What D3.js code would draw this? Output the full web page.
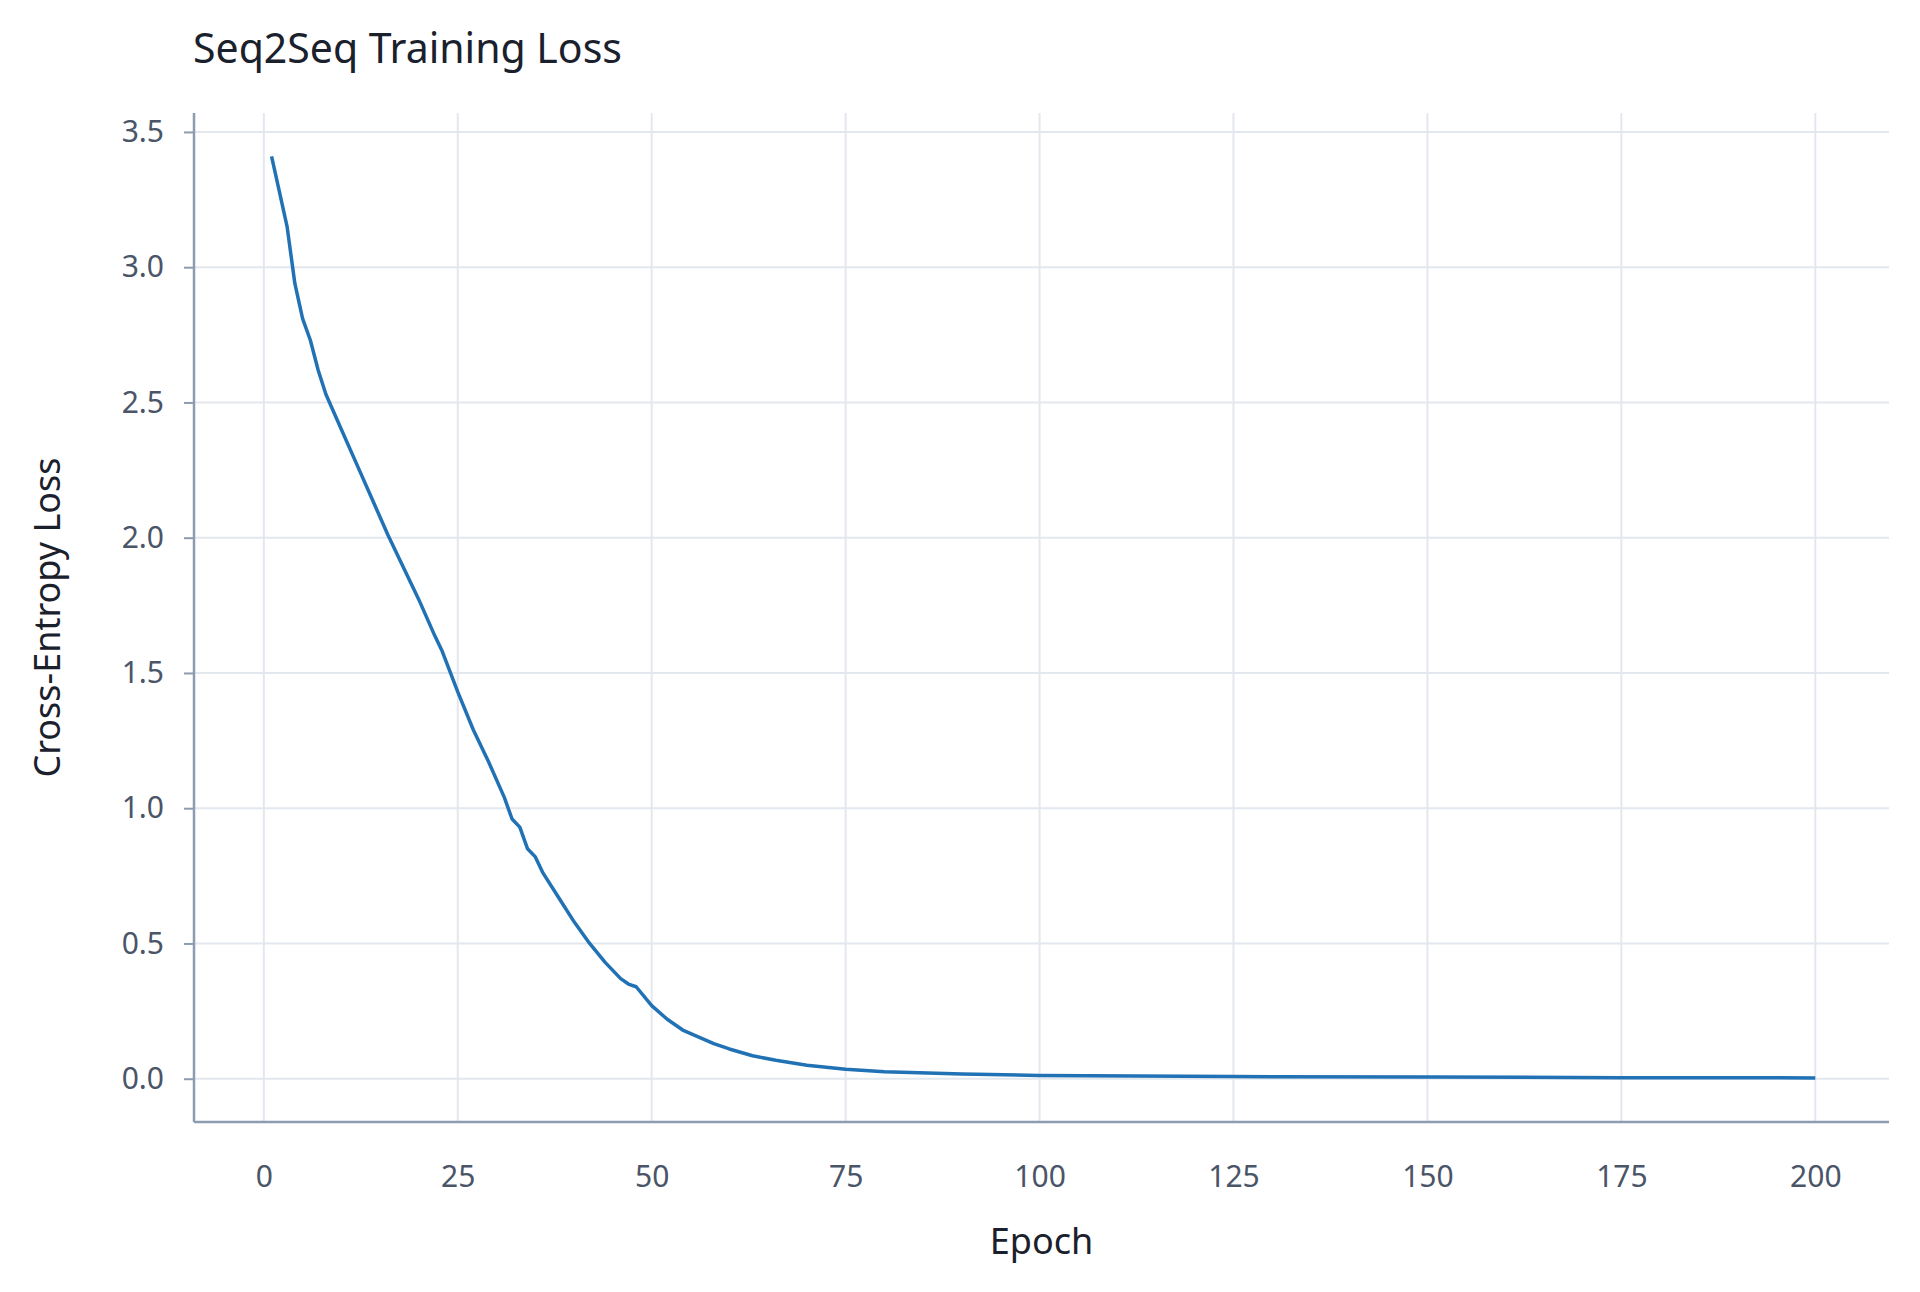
<!DOCTYPE html>
<html>
<head>
<meta charset="utf-8">
<script src="https://cdn.jsdelivr.net/npm/d3@7"></script>
<style>
  body { margin: 0; background: #fff; }
  text { font-family: "Noto Sans", "Open Sans", sans-serif; }
</style>
</head>
<body>
<svg id="chart" width="1920" height="1292"></svg>
<script>
// data
const epochs = [1, 2, 3, 4, 5, 6, 7, 8, 10, 12, 14, 16, 18, 20, 22, 23, 25, 27, 29, 31, 32, 33, 34, 35, 36, 38, 40, 42, 44, 46, 47, 48, 50, 52, 54, 56, 58, 60, 63, 66, 70, 75, 80, 90, 100, 125, 150, 175, 200];
const losses = [3.41, 3.28, 3.15, 2.94, 2.81, 2.73, 2.62, 2.53, 2.40, 2.27, 2.14, 2.01, 1.89, 1.77, 1.64, 1.58, 1.43, 1.29, 1.17, 1.04, 0.96, 0.93, 0.85, 0.82, 0.76, 0.67, 0.58, 0.50, 0.43, 0.37, 0.35, 0.34, 0.27, 0.22, 0.18, 0.155, 0.13, 0.11, 0.085, 0.068, 0.05, 0.035, 0.026, 0.017, 0.012, 0.008, 0.006, 0.004, 0.003];
const xTicks = [0, 25, 50, 75, 100, 125, 150, 175, 200];
const yTicks = [0, 0.5, 1.0, 1.5, 2.0, 2.5, 3.0, 3.5];

const margin = { left: 194, right: 31, top: 113, bottom: 170 };
const width = 1920, height = 1292;
const svg = d3.select("#chart");

const x = d3.scaleLinear().domain([-9, 209.5]).range([margin.left, width - margin.right]);
const y = d3.scaleLinear().domain([-0.16, 3.57]).range([height - margin.bottom, margin.top]);

// grid
svg.append("g").selectAll("line").data(xTicks).join("line")
  .attr("x1", d => x(d)).attr("x2", d => x(d))
  .attr("y1", margin.top).attr("y2", height - margin.bottom)
  .attr("stroke", "#e3e8ee").attr("stroke-width", 2);
svg.append("g").selectAll("line").data(yTicks).join("line")
  .attr("x1", margin.left).attr("x2", width - margin.right)
  .attr("y1", d => y(d)).attr("y2", d => y(d))
  .attr("stroke", "#e3e8ee").attr("stroke-width", 2);

// axes
const xAxis = svg.append("g")
  .attr("transform", `translate(0,${height - margin.bottom})`)
  .call(d3.axisBottom(x).tickValues(xTicks).tickSize(0).tickPadding(44).tickFormat(d3.format("d")));
const yAxis = svg.append("g")
  .attr("transform", `translate(${margin.left},0)`)
  .call(d3.axisLeft(y).tickValues(yTicks).tickSize(10).tickPadding(20).tickFormat(d3.format(".1f")));
[xAxis, yAxis].forEach(a => {
  a.select(".domain").attr("stroke", "#8d9cb0").attr("stroke-width", 2.5);
  a.selectAll(".tick line").attr("stroke", "#8d9cb0").attr("stroke-width", 2);
  a.selectAll("text").attr("fill", "#4a5568").style("font-size", "30px");
});
xAxis.select(".domain").attr("d", `M${margin.left},0H${width - margin.right}`);
yAxis.select(".domain").attr("d", `M0,${margin.top}V${height - margin.bottom}`);

// line
const line = d3.line().x((d, i) => x(epochs[i])).y(d => y(d));
svg.append("path")
  .datum(losses)
  .attr("d", line)
  .attr("fill", "none")
  .attr("stroke", "#2171b5")
  .attr("stroke-width", 3.5)
  .attr("stroke-linejoin", "round");

// labels
svg.append("text").attr("x", 193).attr("y", 63)
  .style("font-size", "41px").attr("fill", "#1a202c").text("Seq2Seq Training Loss");
svg.append("text").attr("x", (margin.left + width - margin.right) / 2).attr("y", 1254)
  .attr("text-anchor", "middle").style("font-size", "36px").attr("fill", "#1a202c").text("Epoch");
svg.append("text")
  .attr("transform", `translate(60,${(margin.top + height - margin.bottom) / 2}) rotate(-90)`)
  .attr("text-anchor", "middle").style("font-size", "36px").attr("fill", "#1a202c").text("Cross-Entropy Loss");
</script>
</body>
</html>
